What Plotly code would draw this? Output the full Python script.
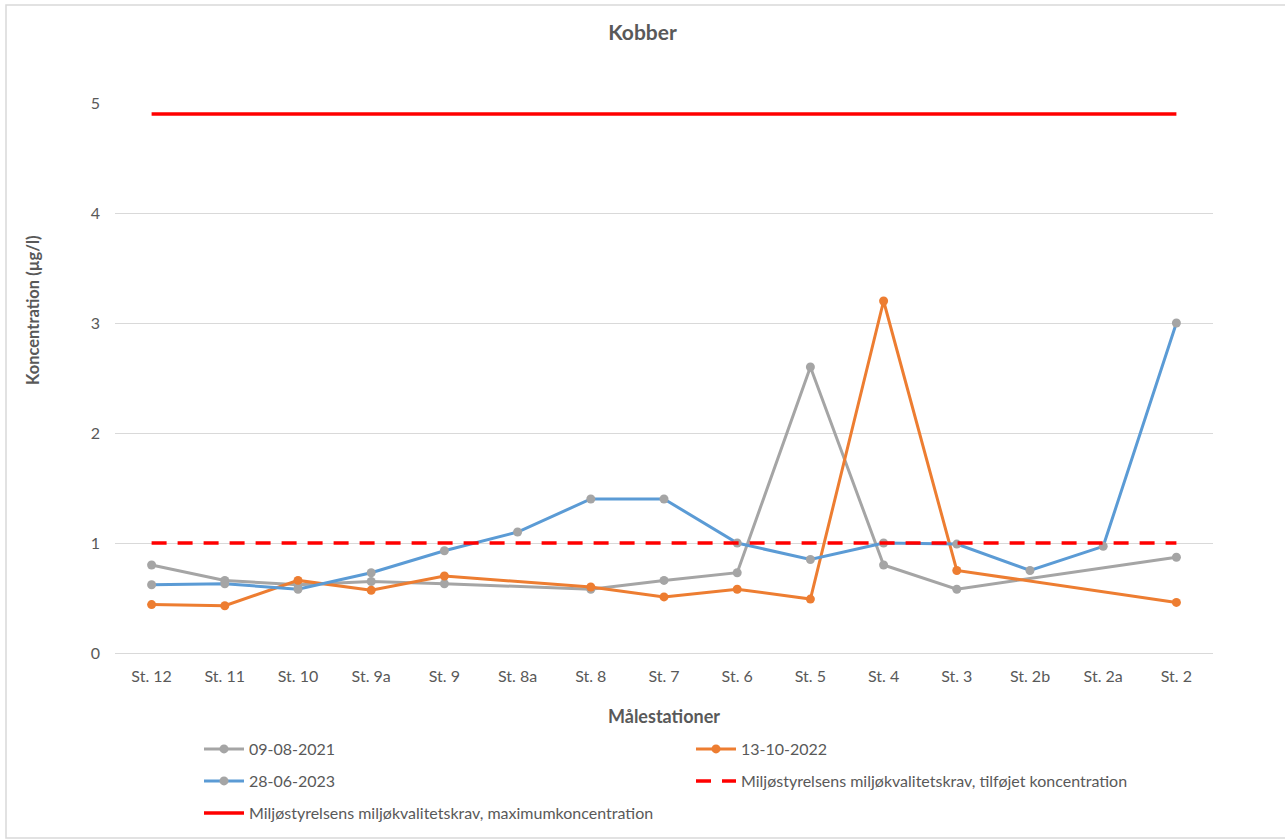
import plotly.graph_objects as go

stations = ["St. 12", "St. 11", "St. 10", "St. 9a", "St. 9", "St. 8a", "St. 8", "St. 7",
            "St. 6", "St. 5", "St. 4", "St. 3", "St. 2b", "St. 2a", "St. 2"]

kobber_2021 = [0.80, 0.66, 0.62, 0.65, 0.63, None, 0.58, 0.66, 0.73, 2.60, 0.80, 0.58, None, None, 0.87]
kobber_2022 = [0.44, 0.43, 0.66, 0.57, 0.70, None, 0.60, 0.51, 0.58, 0.49, 3.20, 0.75, None, None, 0.46]
kobber_2023 = [0.62, 0.63, 0.58, 0.73, 0.93, 1.10, 1.40, 1.40, 1.00, 0.85, 1.00, 0.99, 0.75, 0.97, 3.00]

krav_tilfoejet = [1.0] * len(stations)
krav_maks = [4.9] * len(stations)

y_ticks = [0, 1, 2, 3, 4, 5]

FONT = "Lato, 'Open Sans', sans-serif"
TXT = "#595959"
W, H = 1285, 839
# plot area in page pixels
PL, PR, PT, PB = 115, 1213, 103, 653

fig = go.Figure()

fig.add_trace(go.Scatter(
    x=stations, y=kobber_2021, name="09-08-2021", mode="lines+markers",
    connectgaps=True, legend="legend",
    line=dict(color="#a5a5a5", width=3),
    marker=dict(color="#a5a5a5", size=9, symbol="circle")))

fig.add_trace(go.Scatter(
    x=stations, y=kobber_2022, name="13-10-2022", mode="lines+markers",
    connectgaps=True, legend="legend2",
    line=dict(color="#ed7d31", width=3),
    marker=dict(color="#ed7d31", size=9, symbol="circle")))

fig.add_trace(go.Scatter(
    x=stations, y=kobber_2023, name="28-06-2023", mode="lines+markers",
    connectgaps=True, legend="legend3",
    line=dict(color="#5b9bd5", width=3),
    marker=dict(color="#a5a5a5", size=9, symbol="circle")))

fig.add_trace(go.Scatter(
    x=stations, y=krav_tilfoejet,
    name="Miljøstyrelsens miljøkvalitetskrav, tilføjet koncentration",
    mode="lines", legend="legend4",
    line=dict(color="#ff0000", width=3.5, dash="15px,11px")))

fig.add_trace(go.Scatter(
    x=stations, y=krav_maks,
    name="Miljøstyrelsens miljøkvalitetskrav, maximumkoncentration",
    mode="lines", legend="legend5",
    line=dict(color="#ff0000", width=3.5)))


def legend_box(px, py):
    # one legend entry placed in pixel coordinates of the page
    return dict(xref="container", yref="container",
                x=px / W, xanchor="left", y=1 - py / H, yanchor="middle",
                itemwidth=40, font=dict(family=FONT, size=16, color=TXT),
                bgcolor="rgba(0,0,0,0)", borderwidth=0)


def px_to_paper_x(px):
    return (px - PL) / (PR - PL)


def px_to_paper_y(py):
    return (PB - py) / (PB - PT)


fig.update_layout(
    width=W, height=H,
    margin=dict(l=PL, r=W - PR, t=PT, b=H - PB, autoexpand=False),
    paper_bgcolor="white", plot_bgcolor="white",
    font=dict(family=FONT, size=16, color=TXT),
    title=dict(text="<b>Kobber</b>", x=0.5, xanchor="center", y=1 - 33 / H, yanchor="middle",
               font=dict(family=FONT, size=21, color=TXT)),
    showlegend=True,
    legend=legend_box(199, 749),
    legend2=legend_box(691, 749),
    legend3=legend_box(199, 781),
    legend4=legend_box(691, 781),
    legend5=legend_box(199, 813),
    xaxis=dict(
        type="category", categoryorder="array", categoryarray=stations,
        range=[-0.5, len(stations) - 0.5],
        showgrid=False, showline=False, zeroline=False, ticks="",
        ticklabelstandoff=12, automargin=False,
        tickfont=dict(family=FONT, size=16, color=TXT),
        title=dict(text="<b>Målestationer</b>", standoff=26,
                   font=dict(family=FONT, size=18, color=TXT))),
    yaxis=dict(
        range=[0, 5], tickvals=y_ticks, ticktext=[str(v) for v in y_ticks],
        showgrid=True, gridcolor="#d9d9d9", gridwidth=1,
        zeroline=True, zerolinecolor="#d9d9d9", zerolinewidth=1,
        showline=False, ticks="", ticklabelstandoff=14, automargin=False,
        tickfont=dict(family=FONT, size=16, color=TXT)),
    annotations=[dict(text="<b>Koncentration (µg/l)</b>", textangle=-90,
                      xref="paper", yref="paper",
                      x=px_to_paper_x(33), y=px_to_paper_y(310),
                      xanchor="center", yanchor="middle", showarrow=False,
                      font=dict(family=FONT, size=16.5, color=TXT))],
    shapes=[dict(type="rect", xref="paper", yref="paper",
                 x0=px_to_paper_x(6), x1=px_to_paper_x(1290),
                 y0=px_to_paper_y(838), y1=px_to_paper_y(5),
                 line=dict(color="#d9d9d9", width=1.5), fillcolor="rgba(0,0,0,0)",
                 layer="below")],
)

fig.write_html("out.html")
